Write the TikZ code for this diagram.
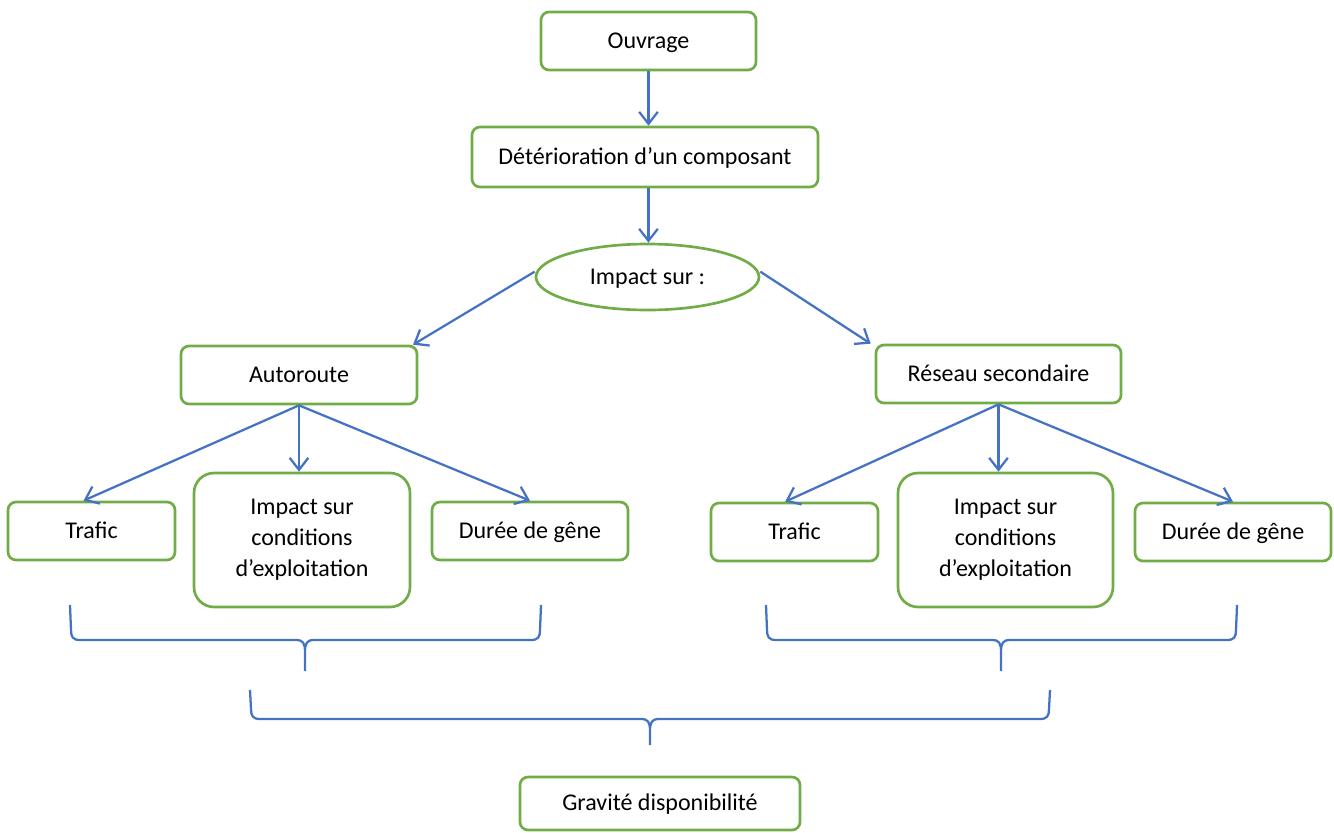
\documentclass[tikz,border=0pt]{standalone}
\usepackage{fontspec}
\setmainfont{Carlito}
\usetikzlibrary{arrows.meta,shapes.geometric}
\definecolor{boxgreen}{HTML}{70AD47}
\definecolor{linkblue}{HTML}{4472C4}
\begin{document}
\begin{tikzpicture}[x=0.75pt,y=-0.75pt,
  box/.style={draw=boxgreen,line width=2pt,rounded corners=6pt,inner sep=0pt,
    font=\fontsize{18}{23.3}\selectfont,align=center,minimum height=43.5pt,
    text height=14pt,text depth=3pt},
  tallbox/.style={box,rounded corners=15pt,minimum height=100.5pt,text height=,text depth=},
  ellbox/.style={draw=boxgreen,line width=2pt,ellipse,inner sep=0pt,
    font=\fontsize{18}{22}\selectfont,text height=14pt,text depth=3pt},
  link/.style={draw=linkblue,line width=1.7pt,-{Straight Barb[length=9pt,width=14pt]}},
  bracepath/.style={draw=linkblue,line width=1.7pt}]
\useasboundingbox (0,0) rectangle (1334,832);

\node[box,minimum width=161.25pt] (ouv) at (648.5,41) {Ouvrage};
\node[box,minimum width=259.5pt,minimum height=45pt] (det) at (645,157) {Détérioration d’un composant};
\node[ellbox,minimum width=167.25pt,minimum height=49.5pt] (imp) at (647.5,277) {Impact sur :};
\node[box,minimum width=177pt] (aut) at (299,375) {Autoroute};
\node[box,minimum width=183.75pt] (res) at (998.5,374) {Réseau secondaire};

\node[box,minimum width=125.25pt] (trL) at (91.5,531) {Trafic};
\node[tallbox,minimum width=162pt] (icL) at (302,540) {Impact sur\\conditions\\d’exploitation};
\node[box,minimum width=147pt] (duL) at (530,531) {Durée de gêne};

\node[box,minimum width=125.25pt] (trR) at (794.5,532) {Trafic};
\node[tallbox,minimum width=161.25pt] (icR) at (1005.5,540) {Impact sur\\conditions\\d’exploitation};
\node[box,minimum width=147pt] (duR) at (1233,532) {Durée de gêne};

\node[box,minimum width=210pt,minimum height=39.75pt] (grav) at (660,803.5) {Gravité disponibilité};

\draw[link] (ouv.south) -- (ouv.south |- det.north);
\draw[link] ([xshift=2.6pt]det.south) -- ([xshift=2.6pt]det.south |- imp.north);
\draw[link] ([yshift=4pt]imp.west) -- ([xshift=-4pt]aut.north east);
\draw[link] ([yshift=4pt]imp.east) -- ([xshift=-3pt]res.north west);

\draw[link] (aut.south) -- ([xshift=-6pt]trL.north);
\draw[link] (aut.south) -- (aut.south |- icL.north);
\draw[link] (aut.south) -- (duL.north);

\draw[link] (res.south) -- ([xshift=-7pt]trR.north);
\draw[link] (res.south) -- (res.south |- icR.north);
\draw[link] (res.south) -- (duR.north);

% braces
\draw[bracepath] (70,605) -- (71,630) .. controls (71,637) and (73,640) .. (80,640) -- (296,640)
  .. controls (303,640) and (305,643) .. (305,652) -- (305,671)
  (305,652) .. controls (305,643) and (307,640) .. (314,640) -- (531,640)
  .. controls (538,640) and (540,637) .. (540,630) -- (541,605);
\draw[bracepath] (766,605) -- (767,630) .. controls (767,637) and (769,640) .. (776,640) -- (992,640)
  .. controls (999,640) and (1001,643) .. (1001,652) -- (1001,671)
  (1001,652) .. controls (1001,643) and (1003,640) .. (1010,640) -- (1227,640)
  .. controls (1234,640) and (1236,637) .. (1236,630) -- (1237,605);
\draw[bracepath] (250,690) -- (251,709) .. controls (251,716) and (253,719) .. (260,719) -- (641,719)
  .. controls (648,719) and (650,722) .. (650,731) -- (650,745)
  (650,731) .. controls (650,722) and (652,719) .. (659,719) -- (1040,719)
  .. controls (1047,719) and (1049,716) .. (1049,709) -- (1050,690);
\end{tikzpicture}
\end{document}
